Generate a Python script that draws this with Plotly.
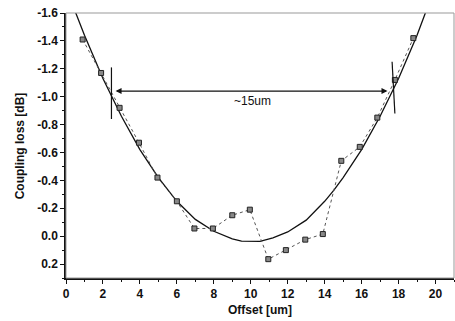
import plotly.graph_objects as go

# measured data points
offset_um = [0.9, 1.9, 2.9, 3.95, 4.95, 6.0, 6.95, 7.95, 9.0, 9.95, 10.95, 11.9, 12.95, 13.9, 14.9, 15.9, 16.85, 17.8, 18.8]
loss_db = [-1.41, -1.17, -0.92, -0.67, -0.42, -0.25, -0.055, -0.055, -0.15, -0.19, 0.165, 0.10, 0.025, -0.015, -0.54, -0.64, -0.85, -1.12, -1.42]

# fitted curve
fit_x = [0.5, 1, 2, 3, 4, 5, 6, 7, 8, 9, 9.5, 10.5, 11.2, 12, 13, 14, 14.5, 15, 16, 17, 18, 19, 19.45]
fit_y = [-1.61, -1.44, -1.13, -0.86, -0.62, -0.42, -0.25, -0.12, -0.035, 0.02, 0.036, 0.038, 0.012, -0.03, -0.115, -0.25, -0.33, -0.42, -0.62, -0.86, -1.13, -1.44, -1.6]

x_ticks = list(range(0, 21, 2))
y_ticks = [-1.6, -1.4, -1.2, -1.0, -0.8, -0.6, -0.4, -0.2, 0.0, 0.2]
y_ticktext = ["-1.6", "-1.4", "-1.2", "-1.0", "-0.8", "-0.6", "-0.4", "-0.2", "0.0", "0.2"]

# annotation values
arrow_start, arrow_end, arrow_level = 2.6, 17.4, -1.04
marker_left = (2.46, -1.21, -0.84)
marker_right = (17.7, -1.25, -0.88)
label_text = "~15um"
label_pos = (10.1, -0.97)
x_title = "Offset [um]"
y_title = "Coupling loss [dB]"

font_family = "Liberation Sans, Arial, sans-serif"

fig = go.Figure()
fig.add_trace(go.Scatter(x=fit_x, y=fit_y, mode="lines",
                         line=dict(color="#111", width=1.3), showlegend=False))
fig.add_trace(go.Scatter(x=offset_um, y=loss_db, mode="lines+markers",
                         line=dict(color="#555", width=1, dash="dot"),
                         marker=dict(symbol="square", size=5, color="#888",
                                     line=dict(color="#222", width=1)),
                         showlegend=False))

# border (top/right gray)
fig.add_shape(type="rect", xref="paper", yref="paper", x0=0, x1=1, y0=0, y1=1,
              line=dict(color="#999", width=1))

fig.add_shape(type="line", x0=marker_left[0], x1=marker_left[0], y0=marker_left[1], y1=marker_left[2],
              line=dict(color="#111", width=1.2))
fig.add_shape(type="line", x0=marker_right[0] - 0.05, x1=marker_right[0] + 0.1, y0=marker_right[1], y1=marker_right[2],
              line=dict(color="#111", width=1.2))

fig.add_annotation(x=arrow_end, y=arrow_level, ax=arrow_start, ay=arrow_level,
                   xref="x", yref="y", axref="x", ayref="y", text="",
                   showarrow=True, arrowhead=2, arrowside="end+start",
                   arrowsize=1, arrowwidth=1.2, arrowcolor="#111")
fig.add_annotation(x=label_pos[0], y=label_pos[1], text=label_text, showarrow=False,
                   font=dict(family=font_family, size=12, color="#111"))

# axis titles
fig.add_annotation(x=0.5, y=-0.121, xref="paper", yref="paper", text=x_title, showarrow=False,
                   yanchor="middle", font=dict(family=font_family, size=12, color="#111", weight="bold"))
fig.add_annotation(x=-0.119, y=0.5, xref="paper", yref="paper", text=y_title, showarrow=False,
                   textangle=-90, xanchor="center",
                   font=dict(family=font_family, size=12, color="#111", weight="bold"))

axis_font = dict(family=font_family, size=12, color="#111", weight="bold")
fig.update_xaxes(range=[0, 21], tickmode="array", tickvals=x_ticks, ticktext=[str(v) for v in x_ticks],
                 showgrid=False, zeroline=False, showline=True, linecolor="#111", linewidth=1.5,
                 ticks="outside", ticklen=4, tickcolor="#111", tickwidth=1.2,
                 minor=dict(dtick=1, ticks="outside", ticklen=2, tickcolor="#111"),
                 tickfont=axis_font, automargin=False, ticklabeloverflow="allow")
fig.update_yaxes(range=[0.3, -1.6], tickmode="array", tickvals=y_ticks, ticktext=y_ticktext,
                 showgrid=False, zeroline=False, showline=True, linecolor="#111", linewidth=1.5,
                 ticks="outside", ticklen=4, tickcolor="#111", tickwidth=1.2,
                 minor=dict(dtick=0.1, ticks="outside", ticklen=2, tickcolor="#111"),
                 tickfont=axis_font, automargin=False, ticklabeloverflow="allow")

fig.update_layout(width=455, height=321, margin=dict(l=66, r=1, t=13, b=43),
                  paper_bgcolor="white", plot_bgcolor="white", showlegend=False)

# remove the page's default body margin so the figure fills the window exactly
fig.write_html("out.html", config={"displayModeBar": False},
               post_script="document.body.style.margin='0';document.body.style.overflow='hidden';")
